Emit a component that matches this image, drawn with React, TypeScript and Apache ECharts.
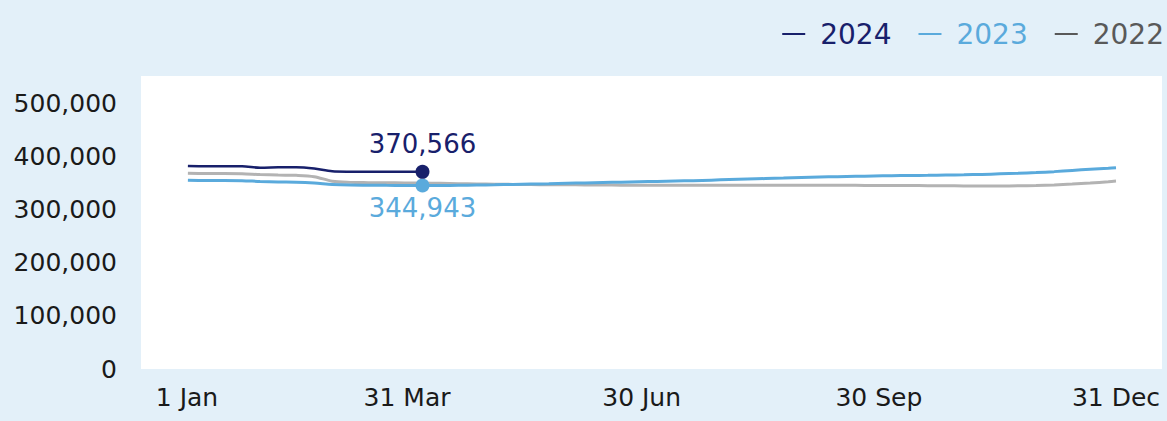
import React, { useEffect, useRef } from "react";
import * as echarts from "echarts";

const BG = "#e3f0f9";
const NAVY = "#18206b";
const BLUE = "#5aaadc";
const GRAY_LINE = "#b3b3b3";
const GRAY_TEXT = "#595959";

// x axis: day of year (0 = 1 Jan, 365 = 31 Dec)
const tickDays = [0, 90, 181, 273, 365];
const tickLabels = ["1 Jan", "31 Mar", "30 Jun", "30 Sep", "31 Dec"];

const yTicks = [0, 100000, 200000, 300000, 400000, 500000];

const days2024 = [5, 12, 19, 26, 33, 40, 47, 54, 61, 68, 75, 82, 89, 96];
const vals2024 = [381500, 381000, 381000, 381000, 378200, 379000, 379300, 376800, 371500, 370800, 370700, 370600, 370600, 370566];

const daysFull = [
  5, 12, 19, 26, 33, 40, 47, 54, 61, 68, 75, 82, 89, 96, 103, 110, 117, 124, 131, 138, 145, 152, 159, 166, 173, 180,
  187, 194, 201, 208, 215, 222, 229, 236, 243, 250, 257, 264, 271, 278, 285, 292, 299, 306, 313, 320, 327, 334, 341,
  348, 355, 362, 365,
];
const vals2023 = [
  355000, 354500, 354500, 354000, 352500, 351500, 351000, 349500, 347000, 345800, 345500, 345200, 345000, 344943,
  345000, 345300, 345700, 346200, 347000, 347600, 348200, 349000, 349800, 350500, 351200, 352000, 352600, 353300,
  354000, 355000, 356000, 357000, 358000, 359000, 360000, 360800, 361500, 362200, 362800, 363300, 363800, 364100,
  364500, 365000, 365800, 366800, 367800, 369200, 371000, 373300, 375500, 377500, 378500,
];
const vals2022 = [
  368000, 367500, 367500, 367000, 365500, 364500, 364000, 361500, 353000, 350800, 350300, 350000, 349800, 349500,
  349000, 348400, 347800, 347300, 347000, 346700, 346400, 346200, 346000, 345800, 345600, 345500, 345500, 345400,
  345400, 345300, 345300, 345300, 345200, 345200, 345200, 345300, 345300, 345200, 345100, 345000, 344800, 344600,
  344400, 344200, 344000, 344000, 344300, 345000, 346000, 347600, 349600, 352000, 353200,
];

const fmt = (v: number) => String(Math.round(v)).replace(/\B(?=(\d{3})+(?!\d))/g, ",");

const categories = Array.from({ length: 366 }, (_, i) => {
  const k = tickDays.indexOf(i);
  return k >= 0 ? tickLabels[k] : String(i);
});

export default function App() {
  const ref = useRef<HTMLDivElement>(null);
  useEffect(() => {
    document.body.style.margin = "0";
    document.body.style.background = BG;
    const chart = echarts.init(ref.current!, null, { renderer: "svg" });
    const pairs = (d: number[], v: number[]) => d.map((x, i) => [x, v[i]]);
    const last2024 = [days2024[days2024.length - 1], vals2024[vals2024.length - 1]];
    const idx23 = daysFull.indexOf(96);
    const pt2023 = [daysFull[idx23], vals2023[idx23]];
    chart.setOption({
      animation: false,
      backgroundColor: BG,
      textStyle: { fontFamily: "DejaVu Sans" },
      graphic: [
        {
          type: "rect",
          shape: { x: 141, y: 76, width: 1021, height: 293 },
          style: { fill: "#ffffff" },
          z: -10,
          silent: true,
        },
      ],
      legend: {
        right: 3,
        top: 18,
        padding: 0,
        icon: "rect",
        itemWidth: 23,
        itemHeight: 2,
        itemGap: 27,
        textStyle: { fontSize: 28, lineHeight: 32, padding: [0, 0, 0, 10], fontFamily: "DejaVu Sans" },
        data: [
          { name: "2024", textStyle: { color: NAVY }, itemStyle: { color: NAVY } },
          { name: "2023", textStyle: { color: BLUE }, itemStyle: { color: BLUE } },
          { name: "2022", textStyle: { color: GRAY_TEXT }, itemStyle: { color: GRAY_TEXT } },
        ],
      },
      grid: { left: 175, right: 51, top: 103, bottom: 52, containLabel: false },
      xAxis: {
        type: "category",
        data: categories,
        boundaryGap: false,
        axisLine: { show: false },
        axisTick: { show: false },
        splitLine: { show: false },
        axisLabel: {
          interval: (index: number) => tickDays.indexOf(index) >= 0,
          formatter: (value: string, index: number) => (index === 0 ? "{first|" + value + "}" : value),
          rich: { first: { padding: [0, 0, 0, 24], fontSize: 25, color: "#1a1a1a", fontFamily: "DejaVu Sans" } },
          fontSize: 25,
          color: "#1a1a1a",
          margin: 16,
          fontFamily: "DejaVu Sans",
        },
      },
      yAxis: {
        type: "value",
        min: 0,
        max: yTicks[yTicks.length - 1],
        interval: yTicks[1] - yTicks[0],
        axisLine: { show: false },
        axisTick: { show: false },
        splitLine: { show: false },
        axisLabel: {
          fontSize: 25,
          color: "#1a1a1a",
          margin: 58,
          formatter: (v: number) => fmt(v),
          fontFamily: "DejaVu Sans",
        },
      },
      series: [
        {
          name: "2022",
          type: "line",
          data: pairs(daysFull, vals2022),
          symbol: "none",
          smooth: 0.3,
          color: GRAY_LINE,
          lineStyle: { width: 3, color: GRAY_LINE },
        },
        {
          name: "2023",
          type: "line",
          data: pairs(daysFull, vals2023),
          symbol: "none",
          smooth: 0.3,
          color: BLUE,
          lineStyle: { width: 3, color: BLUE },
        },
        {
          name: "2024",
          type: "line",
          data: pairs(days2024, vals2024),
          symbol: "none",
          smooth: 0.3,
          color: NAVY,
          lineStyle: { width: 2.5, color: NAVY },
        },
        {
          name: "2023 latest",
          type: "scatter",
          data: [pt2023],
          symbolSize: 14,
          itemStyle: { color: BLUE, opacity: 1 },
          z: 5,
          label: {
            show: true,
            position: "bottom",
            distance: 3,
            fontSize: 26,
            color: BLUE,
            opacity: 1,
            fontFamily: "DejaVu Sans",
            formatter: (p: any) => fmt(p.value[1]),
          },
        },
        {
          name: "2024 latest",
          type: "scatter",
          data: [last2024],
          symbolSize: 14,
          itemStyle: { color: NAVY, opacity: 1 },
          z: 6,
          label: {
            show: true,
            position: "top",
            distance: 8,
            fontSize: 26,
            color: NAVY,
            opacity: 1,
            fontFamily: "DejaVu Sans",
            formatter: (p: any) => fmt(p.value[1]),
          },
        },
      ],
    });
    return () => chart.dispose();
  }, []);
  return <div ref={ref} style={{ width: 1167, height: 421, background: BG }} />;
}
